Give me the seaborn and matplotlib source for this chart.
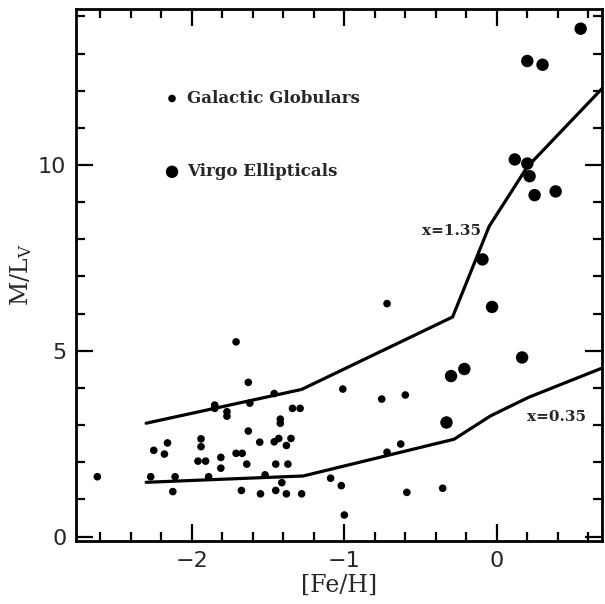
import matplotlib
matplotlib.use("Agg")
import matplotlib.pyplot as plt
import seaborn as sns
from matplotlib.ticker import MultipleLocator

# Galactic globular clusters
gc_feh = [-1.71, -1.63, -1.85, -1.85, -1.62, -1.46, -1.77, -1.77, -1.34, -1.29,
          -1.01, -1.42, -1.42, -1.63, -1.555, -1.46, -1.43, -1.35, -1.38, -2.25,
          -2.16, -2.18, -1.94, -1.94, -1.96, -1.91, -1.81, -1.71, -1.67, -1.64,
          -1.45, -1.37, -1.81, -2.27, -2.11, -1.89, -1.52, -2.62, -2.125, -1.675,
          -1.55, -1.45, -1.41, -1.38, -1.28, -1.09, -1.02, -1.0, -0.72, -0.63,
          -0.59, -0.355, -0.72, -0.755, -0.60]
gc_ml = [5.24, 4.15, 3.54, 3.45, 3.59, 3.85, 3.36, 3.24, 3.45, 3.45,
         3.97, 3.16, 3.05, 2.84, 2.54, 2.55, 2.64, 2.64, 2.45, 2.32,
         2.52, 2.22, 2.63, 2.42, 2.03, 2.03, 2.13, 2.24, 2.24, 1.95,
         1.95, 1.95, 1.84, 1.61, 1.61, 1.61, 1.66, 1.61, 1.21, 1.24,
         1.15, 1.24, 1.45, 1.15, 1.15, 1.57, 1.37, 0.58, 2.27, 2.49,
         1.19, 1.30, 6.27, 3.70, 3.81]

# Virgo ellipticals
ve_feh = [0.55, 0.20, 0.30, 0.118, 0.20, 0.215, 0.248, 0.386,
          -0.094, -0.031, 0.166, -0.213, -0.30, -0.33]
ve_ml = [13.67, 12.80, 12.70, 10.15, 10.04, 9.70, 9.19, 9.29,
         7.46, 6.18, 4.82, 4.51, 4.32, 3.07]

# model tracks
imf135_feh = [-2.3, -1.28, -0.29, -0.05, 0.2, 0.7]
imf135_ml = [3.05, 3.96, 5.91, 8.35, 9.95, 12.1]
imf035_feh = [-2.3, -1.27, -0.28, -0.04, 0.21, 0.7]
imf035_ml = [1.46, 1.63, 2.62, 3.25, 3.75, 4.55]

sns.set_style("ticks")
plt.rcParams["font.family"] = ["DejaVu Sans"]
plt.rcParams["mathtext.fontset"] = "dejavuserif"

fig = plt.figure(figsize=(6.05, 6.04), dpi=100)
ax = fig.add_axes([76 / 605, 1 - 541 / 604, 526 / 605, 532 / 604])

sns.lineplot(x=imf135_feh, y=imf135_ml, sort=False, color="black", lw=2.3, ax=ax)
sns.lineplot(x=imf035_feh, y=imf035_ml, sort=False, color="black", lw=2.3, ax=ax)
sns.scatterplot(x=gc_feh, y=gc_ml, s=30, color="black", edgecolor="none",
                label="Galactic Globulars", ax=ax)
sns.scatterplot(x=ve_feh, y=ve_ml, s=80, color="black", edgecolor="none",
                label="Virgo Ellipticals", ax=ax)

ax.set_xlim(-2.76, 0.69)
ax.set_ylim(-0.12, 14.2)
ax.xaxis.set_major_locator(MultipleLocator(1))
ax.xaxis.set_minor_locator(MultipleLocator(0.2))
ax.yaxis.set_major_locator(MultipleLocator(5))
ax.yaxis.set_minor_locator(MultipleLocator(1))
ax.tick_params(which="both", direction="in", top=True, right=True, width=1.6,
               labelsize=16, color="black")
ax.tick_params(which="major", length=12, pad=7)
ax.tick_params(which="minor", length=6.5)
ax.set_xticks([-2, -1, 0])
ax.set_xticklabels(["\u22122", "\u22121", "0"])
ax.set_yticks([0, 5, 10])
for sp in ax.spines.values():
    sp.set_linewidth(2.0)
    sp.set_color("black")

ax.set_xlabel("[Fe/H]", fontsize=17, family="DejaVu Serif", labelpad=2)
ax.set_ylabel(r"M/L$_{\rm V}$", fontsize=17, family="DejaVu Serif", labelpad=3)

ax.text(-0.105, 8.22, "x=1.35", ha="right", va="center", fontsize=11,
        fontweight="bold", family="DejaVu Serif")
ax.text(0.2, 3.22, "x=0.35", ha="left", va="center", fontsize=11,
        fontweight="bold", family="DejaVu Serif")

leg = ax.legend(loc="upper left", bbox_to_anchor=(0.1667, 0.848), frameon=False,
                borderpad=0, borderaxespad=0, handlelength=1, handletextpad=0.4,
                labelspacing=3.38, prop={"family": "DejaVu Serif", "weight": "bold", "size": 12})

fig.savefig("out.png", dpi=100)
